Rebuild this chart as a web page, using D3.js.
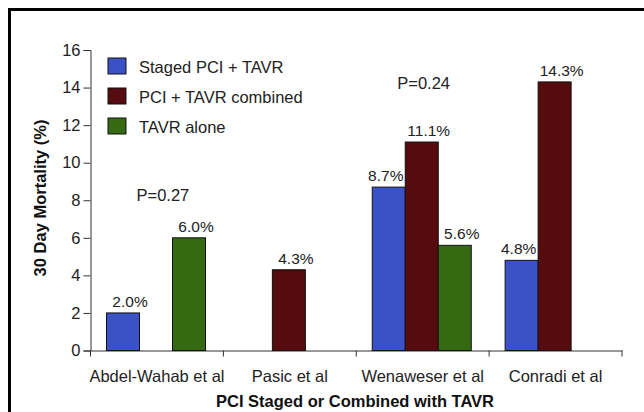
<!DOCTYPE html>
<html>
<head>
<meta charset="utf-8">
<script src="https://cdn.jsdelivr.net/npm/d3@7"></script>
<style>
  body { margin: 0; background: #fff; }
  svg { display: block; font-family: "Liberation Sans", Arial, sans-serif; }
</style>
</head>
<body>
<svg width="644" height="412"></svg>
<script>
"use strict";

// studies on x axis
const studies = ["Abdel-Wahab et al", "Pasic et al", "Wenaweser et al", "Conradi et al"];
// three series, null = no bar
const seriesNames = ["Staged PCI + TAVR", "PCI + TAVR combined", "TAVR alone"];
const stagedVals = [2.0, null, 8.7, 4.8];
const combinedVals = [null, 4.3, 11.1, 14.3];
const aloneVals = [6.0, null, 5.6, null];
const yTicks = [0, 2, 4, 6, 8, 10, 12, 14, 16];
const pValues = [{ study: "Abdel-Wahab et al", text: "P=0.27" }, { study: "Wenaweser et al", text: "P=0.24" }];

const colors = ["#3a52c6", "#560b0e", "#356a12"];

const svg = d3.select("svg");

// frame round the figure (runs off the right/bottom edge)
svg.append("rect")
  .attr("x", 9.5).attr("y", 9.5)
  .attr("width", 700).attr("height", 500)
  .attr("fill", "none").attr("stroke", "#000").attr("stroke-width", 3);

const x0 = d3.scaleBand().domain(studies).range([90.5, 622]).padding(0);
const x1 = d3.scaleBand().domain(seriesNames).range([16, 115]).padding(0);
const y = d3.scaleLinear().domain([0, 16]).range([350.5, 50]);

// rows: one per study
const rows = studies.map((s, i) => ({
  study: s,
  vals: [stagedVals[i], combinedVals[i], aloneVals[i]]
}));

// y axis
const yAxis = d3.axisLeft(y).tickValues(yTicks).tickSize(7).tickPadding(3);
const yG = svg.append("g").attr("transform", "translate(90.5,0)").call(yAxis);
yG.select(".domain").attr("stroke", "#333");
yG.selectAll(".tick line").attr("stroke", "#333");
yG.selectAll(".tick text").attr("font-size", 16.5).attr("fill", "#222")
  .attr("font-family", "Liberation Sans, Arial, sans-serif");

// x axis: line + ticks at group edges, labels at centres
const xAxis = d3.axisBottom(x0).tickSize(0).tickPadding(20);
const xG = svg.append("g").attr("transform", "translate(0,350.5)").call(xAxis);
xG.select(".domain").attr("stroke", "#333");
xG.selectAll(".tick text").attr("font-size", 16.5).attr("fill", "#222")
  .attr("font-family", "Liberation Sans, Arial, sans-serif");
const edges = studies.map(s => x0(s)).concat([x0.range()[1]]);
xG.selectAll("line.edge")
  .data(edges)
  .enter()
  .append("line")
  .attr("class", "edge")
  .attr("x1", d => d).attr("x2", d => d)
  .attr("y1", 0).attr("y2", 6)
  .attr("stroke", "#333");

// bars
const groups = svg.selectAll("g.study")
  .data(rows)
  .enter()
  .append("g")
  .attr("class", "study")
  .attr("transform", d => "translate(" + x0(d.study) + ",0)");

const cells = groups.selectAll("g.cell")
  .data(d => d.vals.map((v, j) => ({ v: v, j: j, next: d.vals[j + 1] })).filter(e => e.v !== null))
  .enter()
  .append("g")
  .attr("class", "cell");

cells.append("rect")
  .attr("x", d => x1(seriesNames[d.j]))
  .attr("y", d => y(d.v))
  .attr("width", x1.bandwidth())
  .attr("height", d => y(0) - y(d.v))
  .attr("fill", d => colors[d.j])
  .attr("stroke", "#111")
  .attr("stroke-width", 1);

// value labels; shift left if the bar to the right is taller
cells.append("text")
  .attr("x", d => x1(seriesNames[d.j]) + x1.bandwidth() / 2 + (d.next != null && d.next > d.v ? -3 : 7))
  .attr("y", d => y(d.v) - 6)
  .attr("text-anchor", "middle")
  .attr("font-size", 15.5)
  .attr("fill", "#222")
  .text(d => d.v.toFixed(1) + "%");

// p values
svg.selectAll("text.pval")
  .data(pValues)
  .enter()
  .append("text")
  .attr("class", "pval")
  .attr("x", d => x0(d.study) + (d.study === "Wenaweser et al" ? 41 : 46))
  .attr("y", d => (d.study === "Wenaweser et al" ? 89 : 200.5))
  .attr("font-size", 16.5)
  .attr("fill", "#222")
  .text(d => d.text);

// legend
const legend = svg.selectAll("g.legend")
  .data(seriesNames)
  .enter()
  .append("g")
  .attr("class", "legend")
  .attr("transform", (d, i) => "translate(108," + (58 + i * 30) + ")");
legend.append("rect")
  .attr("width", 18).attr("height", 16)
  .attr("fill", (d, i) => colors[i])
  .attr("stroke", "#111");
legend.append("text")
  .attr("x", 31).attr("y", 14.5)
  .attr("font-size", 16.5)
  .attr("fill", "#222")
  .text(d => d);

// axis titles
svg.append("text")
  .attr("transform", "translate(46,198) rotate(-90)")
  .attr("text-anchor", "middle")
  .attr("font-size", 16.5)
  .attr("font-weight", "bold")
  .attr("fill", "#111")
  .text("30 Day Mortality (%)");

svg.append("text")
  .attr("x", 355).attr("y", 407)
  .attr("text-anchor", "middle")
  .attr("font-size", 16.5)
  .attr("font-weight", "bold")
  .attr("fill", "#111")
  .text("PCI Staged or Combined with TAVR");
</script>
</body>
</html>
